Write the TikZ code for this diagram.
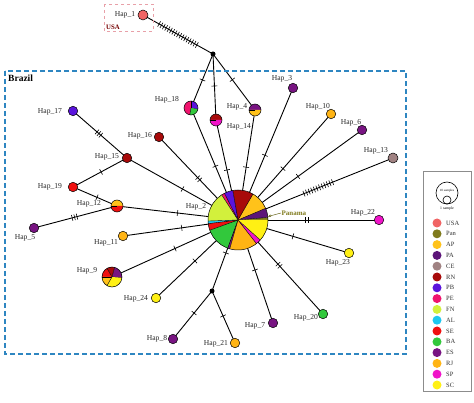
\documentclass[tikz,border=0pt]{standalone}
\usepackage{fontspec}
\setmainfont{Liberation Serif}
\usetikzlibrary{decorations.markings,arrows.meta}
\pgfdeclarelayer{bg}
\pgfsetlayers{bg,main}
\definecolor{cUSA}{HTML}{F06464}
\definecolor{cPan}{HTML}{7F7A1C}
\definecolor{cAP}{HTML}{FFC21A}
\definecolor{cPA}{HTML}{5C1479}
\definecolor{cCE}{HTML}{A08282}
\definecolor{cRN}{HTML}{A80A0A}
\definecolor{cPB}{HTML}{5A14DC}
\definecolor{cPE}{HTML}{F0146E}
\definecolor{cFN}{HTML}{D2F03C}
\definecolor{cAL}{HTML}{1EC8F0}
\definecolor{cSE}{HTML}{F01010}
\definecolor{cBA}{HTML}{32C83C}
\definecolor{cES}{HTML}{781482}
\definecolor{cRJ}{HTML}{FFB414}
\definecolor{cSP}{HTML}{F014C8}
\definecolor{cSC}{HTML}{FFF014}
\definecolor{brz}{HTML}{2E86C1}
\definecolor{usab}{HTML}{E8A0A8}
\newcommand\drawpie[3]{%
  \foreach \a/\b/\c in {#3}{%
    \fill[\c] (#1.center) -- ++(\a:#2pt) arc[start angle=\a,end angle=\b,radius=#2pt] -- cycle;
    \draw[line width=0.4pt] (#1.center) -- ++(\a:#2pt);}
  \draw[line width=0.5pt] (#1.center) circle[radius=#2pt];}
\tikzset{
  hp/.style={circle,draw,line width=0.5pt,inner sep=0pt,minimum size=9.5pt},
  pienode/.style={circle,inner sep=0pt,minimum size=#1},
  jn/.style={circle,fill=black,inner sep=0pt,minimum size=5pt},
  lbl/.style={inner sep=0.5pt,font=\fontsize{7.6}{8.5}\selectfont,text=black!85},
  edge/.style={line width=0.9pt},
  tk/.style={postaction={decorate,decoration={markings,mark=at position #1 with {\draw[line width=0.6pt] (0,-3pt)--(0,3pt);}}}},
  tks/.style args={#1 to #2 by #3}{postaction={decorate,decoration={markings,mark=between positions #1 and #2 step #3 with {\draw[line width=0.6pt] (0,-3pt)--(0,3pt);}}}},
  lgdot/.style={circle,inner sep=0pt,minimum size=9pt},
  lgtxt/.style={inner sep=0pt,anchor=west,font=\fontsize{6.5}{7}\selectfont,text=black!80}
}
\begin{document}
\begin{tikzpicture}[x=1pt,y=-1pt]
\useasboundingbox (0,0) rectangle (474,403);
% frames
\draw[usab,dashed,line width=0.6pt] (104,4) rectangle (153,31);
\node[inner sep=0pt,font=\bfseries\fontsize{6.8}{7}\selectfont,text=red!45!black] (usa) at (113,27) {USA};
\draw[brz,line width=1.3pt,dash pattern=on 5pt off 3pt] (5,71) rectangle (406,354);
\node[inner sep=0pt,anchor=west,font=\bfseries\fontsize{9.5}{10}\selectfont] (brazil) at (8,78) {Brazil};
% nodes
\node[hp,fill=cUSA,minimum size=10pt] (h1) at (143,15) {};
\node[jn] (T) at (213,54) {};
\node[jn] (B) at (212,291) {};
\node[pienode=60pt] (h2) at (238,220) {};
\node[pienode=14pt] (h18) at (191,108) {};
\node[pienode=12pt] (h14) at (216,120) {};
\node[pienode=12pt] (h4) at (255,110) {};
\node[pienode=12pt] (h12) at (117,206) {};
\node[pienode=20pt] (h9) at (112,277) {};
\node[hp,fill=cES] (h3) at (293,88) {};
\node[hp,fill=cRJ] (h10) at (331,114) {};
\node[hp,fill=cES] (h6) at (362,130) {};
\node[hp,fill=cCE,minimum size=10pt] (h13) at (393,158) {};
\node[hp,fill=cPB] (h17) at (73,111) {};
\node[hp,fill=cRN] (h16) at (159,137) {};
\node[hp,fill=cRN] (h15) at (127,158) {};
\node[hp,fill=cSE] (h19) at (73,187) {};
\node[hp,fill=cES] (h5) at (34,228) {};
\node[hp,fill=cRJ] (h11) at (123,236) {};
\node[hp,fill=cSC] (h24) at (156,298) {};
\node[hp,fill=cES] (h8) at (173,339) {};
\node[hp,fill=cRJ] (h21) at (235,343) {};
\node[hp,fill=cES] (h7) at (273,323) {};
\node[hp,fill=cBA] (h20) at (323,314) {};
\node[hp,fill=cSC] (h23) at (349,253) {};
\node[hp,fill=cSP] (h22) at (379,220) {};
% pies
\drawpie{h2}{30}{0/5/cPan,5/23/cPA,23/60/cAP,60/100/cRN,100/117/cPB,117/123/cPE,123/182/cFN,182/187/cAL,187/200/cSE,200/250/cBA,250/254/cES,254/308/cRJ,308/318/cSP,318/360/cSC}
\drawpie{h18}{7}{-10/90/cPB,90/260/cPE,260/350/cBA}
\drawpie{h14}{6}{0/180/cRN,180/360/cSP}
\drawpie{h4}{6}{0/180/cES,180/360/cAP}
\drawpie{h12}{6}{0/180/cAP,180/360/cSE}
\drawpie{h9}{10}{-5/75/cES,75/120/cRN,120/180/cSE,180/240/cAP,240/355/cSC}
% connectors
\begin{pgfonlayer}{bg}
\draw[edge,tks=0.23 to 0.80 by 2.7pt] (h1.center) -- (T.center);
\draw[edge,tk=0.48] (T.center) -- (h18.center);
\draw[edge,tk=0.485] (T.center) -- (h14.center);
\draw[edge,tk=0.46] (T.center) -- (h4.center);
\draw[edge,tk=0.52] (h18.center) -- (h2.center);
\draw[edge,tk=0.5] (h14.center) -- (h2.center);
\draw[edge,tk=0.52] (h4.center) -- (h2.center);
\draw[edge,tk=0.51] (h3.center) -- (h2.center);
\draw[edge,tk=0.516] (h10.center) -- (h2.center);
\draw[edge,tk=0.516] (h6.center) -- (h2.center);
\draw[edge,tks=0.39 to 0.59 by 2.8pt] (h13.center) -- (h2.center);
\draw[edge,tks=0.49 to 0.52 by 3pt] (h16.center) -- (h2.center);
\draw[edge,tk=0.5] (h15.center) -- (h2.center);
\draw[edge,tks=0.445 to 0.515 by 2.5pt] (h17.center) -- (h15.center);
\draw[edge,tk=0.52] (h19.center) -- (h15.center);
\draw[edge,tk=0.545] (h19.center) -- (h12.center);
\draw[edge,tks=0.46 to 0.52 by 2.5pt] (h5.center) -- (h12.center);
\draw[edge,tk=0.5] (h12.center) -- (h2.center);
\draw[edge,tk=0.51] (h11.center) -- (h2.center);
\draw[edge,tk=0.5] (h9.center) -- (h2.center);
\draw[edge,tk=0.475] (h24.center) -- (h2.center);
\draw[edge,tk=0.465] (h2.center) -- (B.center);
\draw[edge,tk=0.46] (B.center) -- (h8.center);
\draw[edge,tk=0.48] (B.center) -- (h21.center);
\draw[edge,tk=0.485] (h2.center) -- (h7.center);
\draw[edge,tks=0.47 to 0.495 by 3pt] (h2.center) -- (h20.center);
\draw[edge,tk=0.495] (h2.center) -- (h23.center);
\draw[edge,tks=0.475 to 0.50 by 3pt] (h2.center) -- (h22.center);
\end{pgfonlayer}
% labels
\node[lbl] (l1) at (125,15) {Hap\_1};
\node[lbl] (l2) at (196,207) {Hap\_2};
\node[lbl] (l3) at (282,79) {Hap\_3};
\node[lbl] (l4) at (237,107) {Hap\_4};
\node[lbl] (l5) at (25,238) {Hap\_5};
\node[lbl] (l6) at (351,123) {Hap\_6};
\node[lbl] (l7) at (255,326) {Hap\_7};
\node[lbl] (l8) at (157,339) {Hap\_8};
\node[lbl] (l9) at (87,271) {Hap\_9};
\node[lbl] (l10) at (318,107) {Hap\_10};
\node[lbl] (l11) at (106,243) {Hap\_11};
\node[lbl] (l12) at (89,204) {Hap\_12};
\node[lbl] (l13) at (376,151) {Hap\_13};
\node[lbl] (l14) at (239,127) {Hap\_14};
\node[lbl] (l15) at (107,157) {Hap\_15};
\node[lbl] (l16) at (140,136) {Hap\_16};
\node[lbl] (l17) at (50,112) {Hap\_17};
\node[lbl] (l18) at (167,100) {Hap\_18};
\node[lbl] (l19) at (50,187) {Hap\_19};
\node[lbl] (l20) at (306,318) {Hap\_20};
\node[lbl] (l21) at (216,344) {Hap\_21};
\node[lbl] (l22) at (363,213) {Hap\_22};
\node[lbl] (l23) at (338,263) {Hap\_23};
\node[lbl] (l24) at (136,299) {Hap\_24};
% Panama
\node[inner sep=0.5pt,anchor=west,font=\bfseries\fontsize{7}{7.5}\selectfont,text=cPan] (pan) at (281,213) {Panama};
\coordinate (panpt) at (268,216.5);
\draw[cPan!80!black,line width=0.5pt,-{Stealth[length=3pt,width=2.5pt]}] (pan.west) -- (panpt);
% legend
\draw[black!45,line width=1pt] (423,172) rectangle (471,391);
\node[circle,draw,line width=0.6pt,inner sep=0pt,minimum size=22pt] (big) at (447,193) {};
\node[circle,draw,line width=0.6pt,inner sep=0pt,minimum size=8pt] (small) at (447,200) {};
\node[inner sep=0pt,font=\fontsize{3.2}{3.5}\selectfont] (t10) at (447,191) {10 samples};
\node[inner sep=0pt,font=\fontsize{3.8}{4}\selectfont] (t1) at (447,209) {1 sample};
\foreach \c/\t [count=\i] in {cUSA/USA,cPan/Pan,cAP/AP,cPA/PA,cCE/CE,cRN/RN,cPB/PB,cPE/PE,cFN/FN,cAL/AL,cSE/SE,cBA/BA,cES/ES,cRJ/RJ,cSP/SP,cSC/SC}{
  \node[lgdot,fill=\c] (ld\i) at (437,{223+(\i-1)*10.8}) {};
  \node[lgtxt] (lt\i) at (446,{223+(\i-1)*10.8}) {\t};
}
\end{tikzpicture}
\end{document}
